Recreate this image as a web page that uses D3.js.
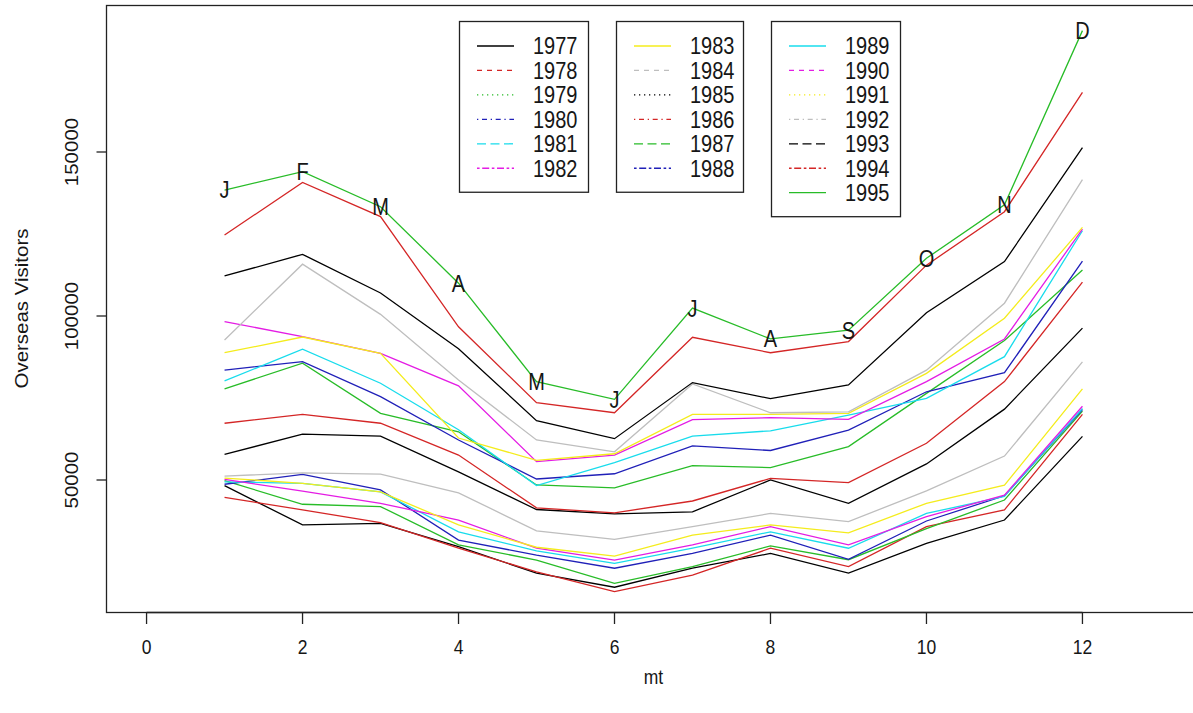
<!DOCTYPE html>
<html><head><meta charset="utf-8">
<script src="https://cdn.jsdelivr.net/npm/d3@7"></script>
<style>
body{margin:0;background:#fff}
svg{display:block}
text{font-family:"Liberation Sans",Arial,Helvetica,sans-serif;fill:#161616}
</style>
</head><body>
<svg id="c" width="1193" height="713"></svg>
<script>
// ---- data ----
const months = [1,2,3,4,5,6,7,8,9,10,11,12];
const monthLabels = ["J","F","M","A","M","J","J","A","S","O","N","D"];
const years = [1977,1978,1979,1980,1981,1982,1983,1984,1985,1986,1987,1988,1989,1990,1991,1992,1993,1994,1995];
const v1977 = [48300,36300,36800,29700,21600,17300,23100,27600,21600,30700,37800,63300];
const v1978 = [44700,40900,37000,29200,22000,16000,21000,29200,23600,35800,40900,70000];
const v1979 = [49800,42600,41900,30200,25600,18500,23600,29900,25700,35200,43900,71000];
const v1980 = [48700,51700,47000,31700,27100,23100,27600,33200,25800,37500,45200,71500];
const v1981 = [49400,49000,46400,34200,28400,24600,29200,34200,29200,39800,45000,71800];
const v1982 = [50200,46600,42900,37800,29200,25600,30200,35800,30200,38800,45400,72500];
const v1983 = [50600,49000,46400,36300,29500,26800,33200,36300,33900,42900,48400,77800];
const v1984 = [51200,52200,51800,46100,34500,31900,35800,39800,37300,46700,57300,86000];
const v1985 = [57800,64000,63400,52500,41000,39700,40300,50000,42900,54900,71600,96300];
const v1986 = [67300,70000,67300,57600,41500,40000,43600,50500,49200,61200,80000,110300];
const v1987 = [77800,85600,70300,64700,48500,47600,54400,53800,60200,76400,92500,114000];
const v1988 = [83500,86100,75400,62200,50300,51900,60400,59000,65200,76900,82700,116700];
const v1989 = [80200,89900,79500,65300,48300,55300,63400,65000,69800,74900,87600,126000];
const v1990 = [98300,93700,88600,78700,55600,57600,68400,69000,68500,80000,93000,126500];
const v1991 = [88800,93600,88600,62800,56000,58000,70000,70000,70300,82500,99300,127000];
const v1992 = [92700,115800,100500,80500,62200,58600,79300,70500,70800,83500,103900,141600];
const v1993 = [112200,118800,107000,90000,68100,62600,79700,74800,79000,101000,116600,151300];
const v1994 = [124700,140700,130300,96700,73600,70500,93500,88800,92200,115500,131800,168200];
const v1995 = [138400,144000,133300,110000,80000,74600,102400,93000,95700,117600,133900,187000];
const seriesValues = [v1977,v1978,v1979,v1980,v1981,v1982,v1983,v1984,v1985,v1986,v1987,v1988,v1989,v1990,v1991,v1992,v1993,v1994,v1995];
const xTicks = [0,2,4,6,8,10,12];
const yTicks = [50000,100000,150000];
const xTitle = "mt";
const yTitle = "Overseas Visitors";
const legendGroups = [[0,6],[6,12],[12,19]];

// ---- styles ----
const palette = ["#000000","#D42626","#28BC28","#2020B8","#18DCEC","#E41CE4","#F4EC1C","#BEBEBE"];
const dashes = [null,"5,5","1.3,3.7","1.3,3.7,5,3.7","9,4.5","2.6,2.6,7,2.6"];
const K = 1.17; // vertical stretch of text

const svg = d3.select("#c");
const plot = {left:106, right:1201, top:5, bottom:612};

const x = d3.scaleLinear().domain([-0.52, 13.52]).range([plot.left, plot.right]);
const y = d3.scaleLinear().domain([9756, 194817]).range([plot.bottom, plot.top]);

function txt(g, tx, ty, s, size, anchor, rot) {
  return g.append("text")
    .attr("transform", `translate(${tx},${ty}) scale(1,${K})` + (rot ? ` rotate(${rot})` : ""))
    .attr("text-anchor", anchor)
    .attr("dy", "0.36em")
    .style("font-size", size + "px")
    .text(s);
}

// lines
const line = d3.line().x((d,i) => x(months[i])).y(d => y(d));
const lg = svg.append("g");
seriesValues.forEach((vals, i) => {
  lg.append("path")
    .attr("d", line(vals))
    .attr("fill", "none")
    .attr("stroke", palette[i % 8])
    .attr("stroke-width", 1.3)
    .attr("stroke-linejoin", "miter");
});

// month labels on 1995
const ml = svg.append("g");
monthLabels.forEach((m, i) => {
  txt(ml, x(months[i]), y(v1995[i]), m, 20, "middle");
});

// frame
svg.append("rect")
  .attr("x", plot.left + 0.5).attr("y", plot.top + 0.5)
  .attr("width", plot.right - plot.left).attr("height", plot.bottom - plot.top)
  .attr("fill", "none").attr("stroke", "#222").attr("stroke-width", 1.3);

// x axis
const xa = svg.append("g");
xa.append("line").attr("x1", x(xTicks[0])).attr("x2", x(xTicks[xTicks.length-1]))
  .attr("y1", plot.bottom + 0.5).attr("y2", plot.bottom + 0.5).attr("stroke", "#222").attr("stroke-width", 1.3);
xTicks.forEach(t => {
  xa.append("line").attr("x1", x(t)).attr("x2", x(t))
    .attr("y1", plot.bottom).attr("y2", plot.bottom + 12).attr("stroke", "#222").attr("stroke-width", 1.3);
  txt(xa, x(t), 647, String(t), 17.5, "middle");
});
txt(xa, (plot.left + plot.right) / 2, 677, xTitle, 17.5, "middle");

// y axis
const ya = svg.append("g");
yTicks.forEach(t => {
  ya.append("line").attr("x1", plot.left).attr("x2", plot.left - 9.5)
    .attr("y1", y(t)).attr("y2", y(t)).attr("stroke", "#222").attr("stroke-width", 1.3);
  txt(ya, 72, y(t), String(t), 17.5, "middle", -90);
});
txt(ya, 22, (plot.top + plot.bottom) / 2, yTitle, 17.5, "middle", -90);

// legends
const boxX = [459, 616, 771];
const boxW = [129, 127, 129];
const rowY0 = 46, rowStep = 24.45;
legendGroups.forEach((grp, gi) => {
  const g = svg.append("g");
  const n = grp[1] - grp[0];
  const bx = boxX[gi];
  g.append("rect").attr("x", bx + 0.5).attr("y", 21.5)
    .attr("width", boxW[gi]).attr("height", (rowY0 - 21) + (n - 1) * rowStep + 23.5)
    .attr("fill", "#fff").attr("stroke", "#222").attr("stroke-width", 1.3);
  for (let k = grp[0]; k < grp[1]; k++) {
    const r = k - grp[0];
    const ry = rowY0 + r * rowStep;
    g.append("line").attr("x1", bx + 18).attr("x2", bx + 55)
      .attr("y1", ry).attr("y2", ry)
      .attr("stroke", palette[k % 8]).attr("stroke-width", 1.3)
      .attr("stroke-dasharray", dashes[k % 6]);
    txt(g, bx + 74, ry, String(years[k]), 20, "start");
  }
});
</script>
</body></html>
